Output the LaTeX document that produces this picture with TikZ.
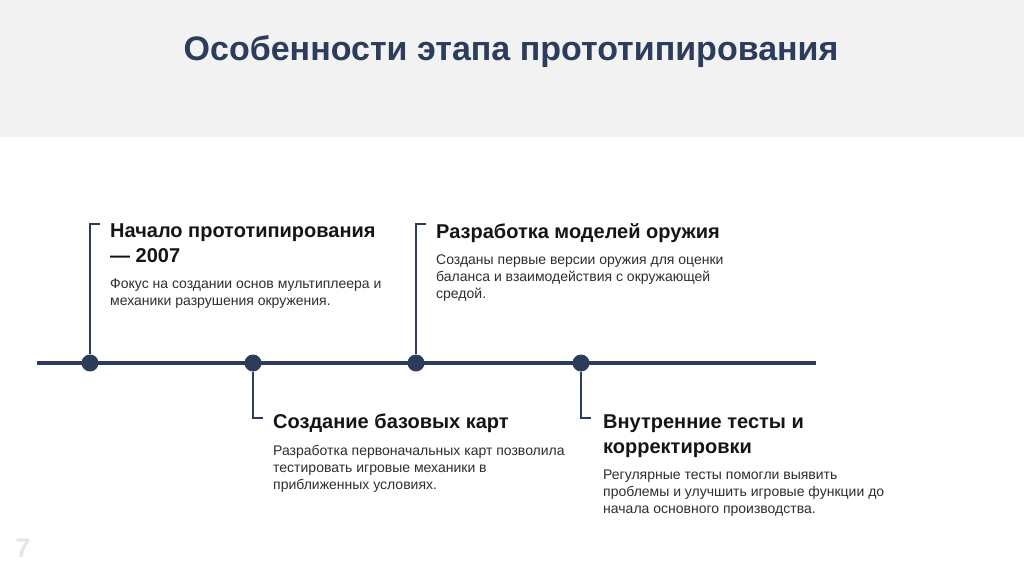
\documentclass[tikz,border=0pt]{standalone}
\usepackage{fontspec}
\setmainfont{Liberation Sans}
\usetikzlibrary{positioning}
\definecolor{navy}{HTML}{2C3D5B}
\definecolor{band}{HTML}{F2F2F2}
\definecolor{ink}{HTML}{151515}
\definecolor{txt}{HTML}{2E2E2E}

\begin{document}
\begin{tikzpicture}[x=1pt, y=-1pt,
  dot/.style   = {circle, fill=navy, inner sep=0pt, minimum size=17pt},
  axis/.style  = {draw=navy, line width=3.2pt},
  stem/.style  = {draw=navy, line width=1.8pt},
  head/.style  = {anchor=north west, align=left, inner sep=0pt, text=ink,
                  font=\fontsize{20}{25}\selectfont\bfseries},
  body/.style  = {anchor=north west, align=left, inner sep=0pt, text=txt,
                  font=\fontsize{14}{17}\selectfont},
]

% --- page ----------------------------------------------------------------
\useasboundingbox (0,0) rectangle (1024,574);
\fill[white] (0,0) rectangle (1024,574);
\fill[band]  (0,0) rectangle (1024,137);
\node[font=\fontsize{34}{38}\selectfont\bfseries, text=navy] (title) at (511,52)
     {Особенности этапа прототипирования};
\node[font=\fontsize{27}{30}\selectfont\bfseries, text=black!10] (page) at (23,548) {7};

% --- timeline ------------------------------------------------------------
\coordinate (start) at (37,363);
\coordinate (end)   at (816,363);
\draw[axis] (start) -- (end);
\node[dot] (d1) at (90,363)  {};
\node[dot] (d2) at (253,363) {};
\node[dot] (d3) at (416,363) {};
\node[dot] (d4) at (581,363) {};

% --- brackets ------------------------------------------------------------
\coordinate (t1) at (90,224);
\coordinate (t2) at (253,418);
\coordinate (t3) at (416,224);
\coordinate (t4) at (581,418);
\draw[stem] (d1) -- (t1) -- ++(10,0);
\draw[stem] (d2) -- (t2) -- ++(10,0);
\draw[stem] (d3) -- (t3) -- ++(10,0);
\draw[stem] (d4) -- (t4) -- ++(10,0);

% --- events --------------------------------------------------------------
\node[head] (h1) at (110,224) {Начало прототипирования\\— 2007};
\node[body] (b1) at (110,279)
     {Фокус на создании основ мультиплеера и\\механики разрушения окружения.};

\node[head] (h3) at (436,223) {Разработка моделей оружия};
\node[body] (b3) at (436,255)
     {Созданы первые версии оружия для оценки\\баланса и взаимодействия с окружающей\\средой.};

\node[head] (h2) at (273,414) {Создание базовых карт};
\node[body] (b2) at (273,445)
     {Разработка первоначальных карт позволила\\тестировать игровые механики в\\приближенных условиях.};

\node[head] (h4) at (603,415) {Внутренние тесты и\\корректировки};
\node[body] (b4) at (603,470)
     {Регулярные тесты помогли выявить\\проблемы и улучшить игровые функции до\\начала основного производства.};

\end{tikzpicture}
\end{document}
